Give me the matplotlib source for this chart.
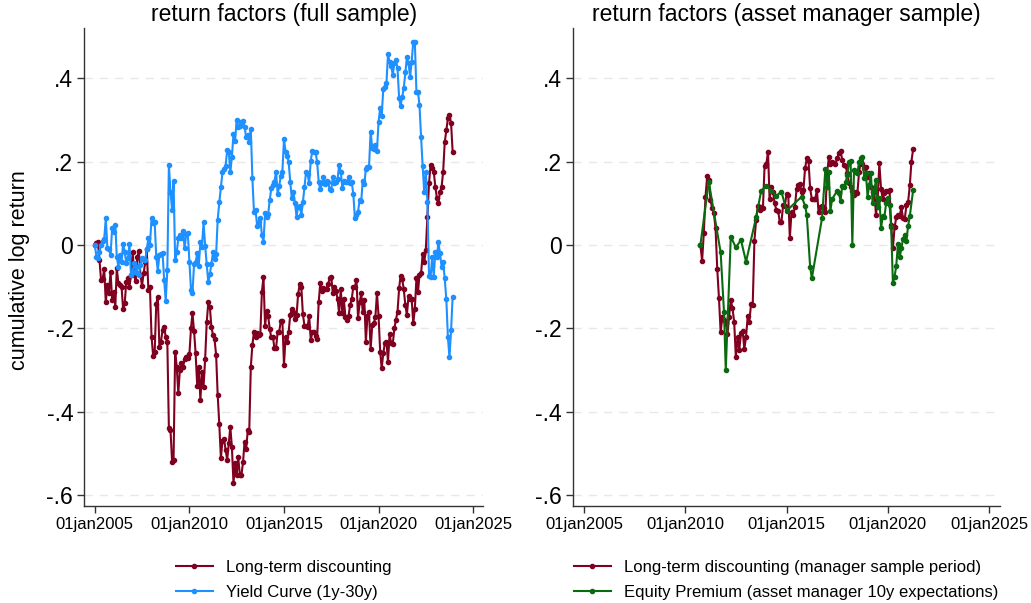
import numpy as np
import pandas as pd
import matplotlib
matplotlib.use('Agg')
import matplotlib.pyplot as plt

plt.rcParams.update({'font.family': ['Liberation Sans', 'DejaVu Sans']})

# ---- data ----
# full sample, monthly from Jan 2005
full_start = '2005-01-01'
yield_curve = [
  0.0, -0.028, -0.032, -0.016, 0.0, 0.01, 0.014, 0.064, -0.008, -0.01, -0.024, 0.04,
  0.032, 0.048, -0.028, -0.052, -0.024, -0.04, 0.002, -0.016, -0.044, -0.032, 0.002, -0.072,
  -0.064, -0.044, -0.052, -0.068, -0.072, -0.048, -0.032, -0.036, -0.036, -0.01, 0.016, 0.0,
  0.064, 0.052, 0.056, -0.028, -0.062, -0.024, -0.022, -0.02, -0.084, -0.134, -0.06, 0.192,
  0.128, 0.084, 0.154, -0.036, -0.018, 0.016, 0.024, 0.016, 0.034, -0.008, 0.026, 0.028,
  -0.042, -0.108,
  -0.116, -0.046, -0.042, -0.02, -0.05, 0.006, -0.004, 0.054, -0.002, -0.046, -0.09, -0.07,
  -0.046, -0.018, -0.034, -0.022, 0.06, 0.102, 0.138, 0.174, 0.182, 0.19, 0.228, 0.222,
  0.174, 0.212, 0.266, 0.25, 0.30, 0.284, 0.286, 0.296, 0.298, 0.284, 0.258, 0.264,
  0.248, 0.278, 0.16, 0.078, 0.084, 0.046, 0.056, 0.064, 0.024, 0.008, 0.076, 0.068,
  0.074, 0.108, 0.136, 0.144, 0.152, 0.176, 0.122, 0.142, 0.166, 0.176,
  0.254, 0.224, 0.214, 0.2, 0.152, 0.112, 0.128, 0.10, 0.068, 0.092, 0.094, 0.072,
  0.102, 0.14, 0.174, 0.17, 0.148, 0.202, 0.226, 0.222, 0.224, 0.2, 0.152, 0.134,
  0.148, 0.162, 0.146, 0.154, 0.15, 0.134, 0.132, 0.162, 0.148, 0.152, 0.158, 0.192,
  0.176, 0.136, 0.154, 0.152, 0.15, 0.162, 0.148, 0.15, 0.122, 0.064, 0.072, 0.08,
  0.108, 0.106, 0.154, 0.146, 0.182, 0.188, 0.188, 0.272, 0.232, 0.23, 0.24, 0.226,
  0.296, 0.328,
  0.31, 0.374, 0.378, 0.388, 0.458, 0.438, 0.43, 0.408, 0.436, 0.444, 0.424, 0.352,
  0.334, 0.356, 0.376, 0.414, 0.45, 0.436, 0.404, 0.44, 0.488, 0.488, 0.368, 0.366,
  0.336, 0.258, 0.19, 0.126, 0.176, 0.104, -0.074, -0.076, -0.03, -0.076, -0.016, -0.028,
  0.006, -0.02, -0.052, -0.042, -0.08, -0.13, -0.222, -0.27, -0.204, -0.124,
]
lt_discount = [
  0.0, 0.004, 0.006, -0.036, -0.084, -0.082, -0.058, -0.138, -0.096, -0.116, -0.064, -0.132,
  -0.112, -0.148, -0.056, -0.092, -0.096, -0.1, -0.154, -0.14, -0.088, -0.08, -0.1, -0.072,
  -0.018, -0.072, -0.086, -0.03, -0.014, -0.072, -0.098, -0.068, -0.042, -0.01, -0.108, -0.1,
  -0.22, -0.266, -0.258, -0.142, -0.124, -0.246, -0.232, -0.204, -0.198, -0.22, -0.234, -0.44,
  -0.444, -0.52, -0.516, -0.256, -0.292, -0.356, -0.30, -0.284, -0.292, -0.274, -0.27, -0.272,
  -0.262, -0.2,
  -0.164, -0.206, -0.26, -0.338, -0.292, -0.372, -0.304, -0.34, -0.274, -0.186, -0.138, -0.15,
  -0.196, -0.216, -0.226, -0.264, -0.36, -0.43, -0.512, -0.47, -0.466, -0.492, -0.516, -0.476,
  -0.436, -0.486, -0.572, -0.524, -0.552, -0.51, -0.552, -0.552, -0.522, -0.472, -0.49, -0.444,
  -0.448, -0.292, -0.24, -0.208, -0.22, -0.212, -0.216, -0.214, -0.112, -0.078, -0.194, -0.158,
  -0.17, -0.202, -0.222, -0.22, -0.248, -0.248, -0.208, -0.208, -0.182, -0.182,
  -0.288, -0.22, -0.232, -0.21, -0.168, -0.154, -0.16, -0.178, -0.168, -0.118, -0.094, -0.1,
  -0.166, -0.194, -0.194, -0.196, -0.17, -0.228, -0.21, -0.208, -0.218, -0.226, -0.138, -0.092,
  -0.11, -0.104, -0.106, -0.106, -0.094, -0.08, -0.076, -0.116, -0.1, -0.11, -0.13, -0.164,
  -0.106, -0.164, -0.13, -0.172, -0.18, -0.17, -0.144, -0.13, -0.1, -0.1, -0.084, -0.176,
  -0.138, -0.116, -0.16, -0.132, -0.232, -0.17, -0.162, -0.25, -0.192,
  -0.188, -0.172, -0.116, -0.17, -0.256, -0.296, -0.26, -0.236, -0.232, -0.28, -0.214, -0.236,
  -0.238, -0.2, -0.18, -0.16, -0.104, -0.074, -0.082, -0.106, -0.144, -0.168, -0.122, -0.13,
  -0.13, -0.188, -0.154, -0.08, -0.112, -0.072, -0.068, -0.022, -0.042, -0.012, 0.068, 0.148,
  0.192, 0.184, 0.176, 0.14, 0.112, 0.1, 0.128, 0.138, 0.176, 0.246, 0.276, 0.304,
  0.312, 0.292, 0.224,
]

# asset manager sample
mgr_start = '2010-10-01'
lt_discount_mgr = [
  0.0, -0.038, 0.028, 0.116, 0.166, 0.156, 0.108, 0.088, 0.076, 0.04, -0.058, -0.128,
  -0.21, -0.172, -0.18, -0.188, -0.214, -0.172, -0.132, -0.152, -0.184, -0.27, -0.222, -0.252,
  -0.212, -0.206, -0.25, -0.22, -0.17, -0.184, -0.142, -0.144, 0.01, 0.06, 0.094, 0.084,
  0.092, 0.088, 0.19, 0.194, 0.224, 0.11, 0.14, 0.128, 0.1, 0.084, 0.082, 0.056,
  0.056, 0.096, 0.094, 0.122, 0.12, 0.016, 0.08, 0.072, 0.092, 0.134, 0.144, 0.146,
  0.126, 0.132, 0.184, 0.208,
  0.202, 0.136, 0.11, 0.11, 0.11, 0.132, 0.078, 0.092, 0.094, 0.088, 0.08, 0.172,
  0.21, 0.194, 0.2, 0.196, 0.194, 0.208, 0.22, 0.226, 0.204, 0.192, 0.19, 0.172,
  0.148, 0.14, 0.13, 0.12, 0.126, 0.124, 0.176, 0.2, 0.194, 0.184, 0.186, 0.164,
  0.172, 0.14, 0.126, 0.132, 0.072, 0.108, 0.196, 0.134, 0.11, 0.124, 0.13, 0.13,
  0.132, 0.048, -0.008, 0.042, 0.066, 0.072, 0.07, 0.09, 0.064, 0.062, 0.096, 0.104,
  0.144, 0.2, 0.23,
]
ep_dates = [
  '2010-10', '2011-03', '2011-10', '2011-12', '2012-01', '2012-04', '2012-07', '2012-10',
  '2013-01', '2013-07', '2013-10', '2014-01', '2014-04', '2014-07', '2014-10', '2015-01',
  '2015-10', '2015-12', '2016-01', '2016-03', '2016-04', '2016-10', '2016-12', '2017-01',
  '2017-02', '2017-03', '2017-04', '2017-07', '2017-08', '2017-09', '2017-10', '2017-11',
  '2017-12', '2018-01', '2018-02', '2018-03', '2018-04', '2018-05', '2018-06', '2018-07',
  '2018-08', '2018-09', '2018-10', '2018-11', '2018-12', '2019-01', '2019-02', '2019-03',
  '2019-04', '2019-05', '2019-06', '2019-07', '2019-08', '2019-09', '2019-10', '2019-11',
  '2019-12', '2020-01', '2020-02', '2020-03', '2020-04', '2020-05', '2020-06', '2020-07',
  '2020-08', '2020-09', '2020-10', '2020-11', '2020-12', '2021-01', '2021-02', '2021-04',
]
equity_premium = [
  0.0, 0.152, -0.018, -0.162, -0.30, 0.02, -0.006, 0.012,
  -0.04, 0.066, 0.13, 0.142, 0.13, 0.118, 0.128, 0.082,
  0.116, 0.094, 0.072, -0.052, -0.08, 0.064, 0.182, 0.14,
  0.174, 0.082, 0.11, 0.13, 0.124, 0.106, 0.142, 0.14,
  0.15, 0.168, 0.2, 0.202, 0.0, 0.18, 0.178, 0.172,
  0.2, 0.208, 0.21, 0.16, 0.172, 0.116, 0.144, 0.172,
  0.1, 0.132, 0.156, 0.092, 0.112, 0.04, 0.07, 0.068,
  0.1, 0.112, 0.096, 0.044, -0.092, -0.076, -0.05, 0.002,
  -0.03, -0.008, 0.014, 0.024, 0.01, 0.046, 0.07, 0.132,
]

xtick_years = [2005, 2010, 2015, 2020, 2025]
yticks = [-0.6, -0.4, -0.2, 0.0, 0.2, 0.4]
ytick_labels = ['-.6', '-.4', '-.2', '0', '.2', '.4']

RED = '#800020'
BLUE = '#1e90ff'
GREEN = '#0a6a10'

full_dates = pd.date_range(full_start, periods=len(yield_curve), freq='MS')
mgr_dates = pd.date_range(mgr_start, periods=len(lt_discount_mgr), freq='MS')
ep_x = pd.to_datetime(ep_dates)

W, H = 1031, 603
fig = plt.figure(figsize=(W/100, H/100), dpi=100)

def px_axes(x0, x1, ytop, ybot):
  return fig.add_axes([x0/W, 1-ybot/H, (x1-x0)/W, (ybot-ytop)/H])

ax_l = px_axes(84.3, 483.3, 28, 505.7)
ax_r = px_axes(572.7, 1000, 28, 505.7)

def style(ax):
  ax.set_xlim(pd.Timestamp('2004-06-12'), pd.Timestamp('2025-07-15'))
  ax.set_ylim(-0.6257, 0.5207)
  ax.set_yticks(yticks)
  ax.set_yticklabels(ytick_labels, fontsize=16.5)
  ax.set_xticks([pd.Timestamp(f'{y}-01-01') for y in xtick_years])
  ax.set_xticklabels([f'01jan{y}' for y in xtick_years], fontsize=12)
  for s in ['top', 'right']:
    ax.spines[s].set_visible(False)
  for s in ['left', 'bottom']:
    ax.spines[s].set_color('#333333')
    ax.spines[s].set_linewidth(1.0)
  ax.tick_params(direction='out', length=5, width=1, color='#333333', pad=3)
  ax.grid(axis='y', color='#e8e8e8', linestyle=(0, (6, 5)), linewidth=1.0)
  ax.set_axisbelow(True)

kw = dict(lw=1.5, marker='o', ms=3.0)
leg_kw = dict(loc='upper center', bbox_to_anchor=(0.5, -0.082), frameon=False,
              fontsize=12, handlelength=2.2, handletextpad=0.8, labelspacing=0.58)

l1, = ax_l.plot(full_dates, lt_discount, color=RED, **kw)
l2, = ax_l.plot(full_dates, yield_curve, color=BLUE, **kw)
style(ax_l)
ax_l.legend([l1, l2], ['Long-term discounting', 'Yield Curve (1y-30y)'], **leg_kw)

r1, = ax_r.plot(mgr_dates, lt_discount_mgr, color=RED, **kw)
r2, = ax_r.plot(ep_x, equity_premium, color=GREEN, **kw)
style(ax_r)
ax_r.legend([r1, r2], ['Long-term discounting (manager sample period)',
                       'Equity Premium (asset manager 10y expectations)'], **leg_kw)

fig.text(283.8/W, 1-15/H, 'return factors (full sample)', ha='center', va='center', fontsize=16.5)
fig.text(786.3/W, 1-15/H, 'return factors (asset manager sample)', ha='center', va='center', fontsize=16.5)
fig.text(20/W, 1-270/H, 'cumulative log return', rotation=90, ha='center', va='center', fontsize=15.5)

fig.savefig('out.png', dpi=100)
